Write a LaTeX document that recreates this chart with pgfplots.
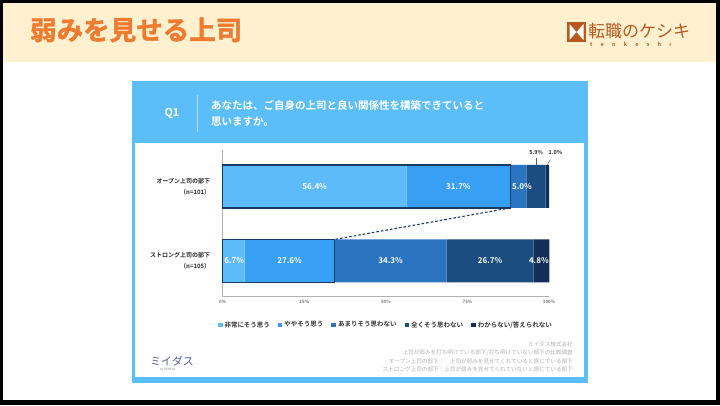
\documentclass[border=0pt]{standalone}
\usepackage{fontspec}
\setmainfont{Noto Sans CJK JP}[BoldFont={Noto Sans CJK JP Bold}]
\newfontfamily\heavyfont{Noto Sans CJK JP Bold}[FakeBold=1.6]
\usepackage{pgfplots}
\pgfplotsset{compat=1.18}
\definecolor{cA}{HTML}{5DBBFA}
\definecolor{cB}{HTML}{379FF4}
\definecolor{cC}{HTML}{2B74BF}
\definecolor{cD}{HTML}{1C4D80}
\definecolor{cE}{HTML}{132F57}
\definecolor{boxc}{HTML}{1A3A66}
\definecolor{panel}{HTML}{5CBEF9}
\definecolor{cream}{HTML}{FFF1CF}
\definecolor{ttl}{HTML}{EE7B30}
\definecolor{logoc}{HTML}{B8581F}
\definecolor{foot}{HTML}{B0B0B0}
\begin{document}
\begin{tikzpicture}[x=1pt,y=1pt,
  vlab/.style={text=white, font=\fontsize{8}{9}\selectfont\bfseries, inner sep=0pt},
  slab/.style={text=black!85, font=\fontsize{5.5}{6}\selectfont\bfseries, inner sep=0pt},
  ftxt/.style={anchor=east, text=foot, font=\fontsize{5.6}{6}\selectfont, inner sep=0pt}]
% slide background
\fill[black] (0,0) rectangle (720,405);
\fill[white] (3,5) rectangle (716,402);
\fill[cream] (3,343) rectangle (716,402);
\node[anchor=west, text=ttl, font=\fontsize{26.5}{30}\selectfont\heavyfont, inner sep=0pt] at (30,375) {弱みを見せる上司};
% logo
\fill[logoc] (567,363) rectangle (586,383);
\fill[white] (569.5,381) -- (576.5,373) -- (569.5,365) -- cycle;
\fill[white] (583.5,381) -- (576.5,373) -- (583.5,365) -- cycle;
\node[anchor=west, text=logoc, font=\fontsize{17}{18}\selectfont, inner sep=0pt] at (588,374) {転職のケシキ};
\node[anchor=west, text=logoc, font=\fontsize{5.5}{6}\selectfont\bfseries, inner sep=0pt] at (590,361) {t\hspace{8.2pt}e\hspace{8.2pt}n\hspace{8.2pt}k\hspace{8.2pt}e\hspace{8.2pt}s\hspace{8.2pt}h\hspace{8.2pt}i};
% panel
\fill[panel] (132,22) rectangle (588,324);
\fill[white] (135,28) rectangle (584,262);
\node[text=white, font=\fontsize{11}{12}\selectfont\bfseries, inner sep=0pt] at (172,292) {Q1};
\draw[white, opacity=0.5, line width=0.5pt] (197,310) -- (197,273);
\node[anchor=west, text=white, font=\fontsize{10.5}{12}\selectfont\bfseries, inner sep=0pt] at (211,300) {あなたは、ご自身の上司と良い関係性を構築できていると};
\node[anchor=west, text=white, font=\fontsize{10.5}{12}\selectfont\bfseries, inner sep=0pt] at (211,283) {思いますか。};
% footer
\node[ftxt] at (573,61) {ミイダス株式会社};
\node[ftxt] at (573,52.3) {上司が弱みを打ち明けている部下/打ち明けていない部下の比較調査};
\node[ftxt] at (573,44) {オープン上司の部下：　上司が弱みを見せてくれていると感じている部下};
\node[ftxt] at (573,35.3) {ストロング上司の部下：上司が弱みを見せてくれていないと感じている部下};
\node[text=gray!70!blue, font=\fontsize{11}{12}\selectfont, inner sep=0pt] at (172,44) {ミイダス};
\node[text=gray, font=\fontsize{3}{3}\selectfont, inner sep=0pt] at (168,35) {by PERSOL};
% chart
\begin{axis}[
  at={(222.7pt,108.3pt)}, anchor=south west,
  scale only axis, width=326.3pt, height=146.7pt,
  xbar stacked, bar width=43pt,
  xmin=0, xmax=100, ymin=-0.48, ymax=1.489,
  axis x line*=bottom, axis y line*=left,
  axis line style={draw=gray!60, line width=0.6pt},
  major tick length=0pt,
  xtick={0,25,50,75,100},
  xticklabels={0\%,25\%,50\%,75\%,100\%},
  xticklabel style={font=\fontsize{4.5}{5}\selectfont\bfseries, text=gray!90!black},
  ytick={0,1},
  yticklabels={{ストロング上司の部下\\（n=105）},{オープン上司の部下\\（n=101）}},
  yticklabel style={align=right, font=\fontsize{6}{11}\selectfont\bfseries, text=black!85, xshift=-9pt},
  clip=false,
  legend columns=5,
  legend style={at={(0.5,-0.193)}, anchor=center, draw=none, fill=none,
    font=\fontsize{6.5}{7}\selectfont\bfseries, text=black!80,
    /tikz/every even column/.append style={column sep=6pt}},
]
\addplot[fill=cA, draw=none, legend image code/.code={\fill[cA] (0pt,-2.3pt) rectangle (4.6pt,2.3pt);}] coordinates {(6.7,0) (56.4,1)};
\addplot[fill=cB, draw=none, legend image code/.code={\fill[cB] (0pt,-2.3pt) rectangle (4.6pt,2.3pt);}] coordinates {(27.6,0) (31.7,1)};
\addplot[fill=cC, draw=none, legend image code/.code={\fill[cC] (0pt,-2.3pt) rectangle (4.6pt,2.3pt);}] coordinates {(34.3,0) (5.0,1)};
\addplot[fill=cD, draw=none, legend image code/.code={\fill[cD] (0pt,-2.3pt) rectangle (4.6pt,2.3pt);}] coordinates {(26.7,0) (5.9,1)};
\addplot[fill=cE, draw=none, legend image code/.code={\fill[cE] (0pt,-2.3pt) rectangle (4.6pt,2.3pt);}] coordinates {(4.8,0) (1.0,1)};
\legend{非常にそう思う,ややそう思う,あまりそう思わない,全くそう思わない,わからない/答えられない}
\coordinate (o0) at (axis cs:0,1);
\coordinate (o1) at (axis cs:88.1,1);
\coordinate (s0) at (axis cs:0,0);
\coordinate (s1) at (axis cs:34.3,0);
\coordinate (l1) at (axis cs:28.2,1);
\coordinate (l2) at (axis cs:72.25,1);
\coordinate (l3) at (axis cs:91.7,1);
\coordinate (l4) at (axis cs:96.05,1);
\coordinate (l5) at (axis cs:99.5,1);
\coordinate (m1) at (axis cs:3.5,0);
\coordinate (m2) at (axis cs:20.5,0);
\coordinate (m3) at (axis cs:51.45,0);
\coordinate (m4) at (axis cs:81.95,0);
\coordinate (m5) at (axis cs:96.9,0);
\end{axis}
\draw[boxc, line width=1.2pt] ([yshift=-21.5pt]o0) rectangle ([yshift=21.5pt]o1);
\draw[boxc, line width=1.2pt] ([yshift=-21.5pt]s0) rectangle ([yshift=21.5pt]s1);
\draw[boxc, line width=1.1pt, dash pattern=on 2.6pt off 2pt] ([yshift=-21.5pt]o1) -- ([yshift=21.5pt]s1);
\node[vlab] at (l1) {56.4\%};
\node[vlab] at (l2) {31.7\%};
\node[vlab] at (l3) {5.0\%};
\node[vlab] at (m1) {6.7\%};
\node[vlab] at (m2) {27.6\%};
\node[vlab] at (m3) {34.3\%};
\node[vlab] at (m4) {26.7\%};
\node[vlab] at (m5) {4.8\%};
\draw[gray!70!black, line width=0.4pt] ([yshift=21.5pt]l4) -- ([yshift=28pt]l4);
\draw[gray!70!black, line width=0.4pt] ([yshift=21.5pt]l5) -- ([xshift=3pt,yshift=27pt]l5);
\node[slab] at ([yshift=34pt]l4) {5.9\%};
\node[slab] at ([xshift=8pt,yshift=34pt]l5) {1.0\%};
\end{tikzpicture}
\end{document}
